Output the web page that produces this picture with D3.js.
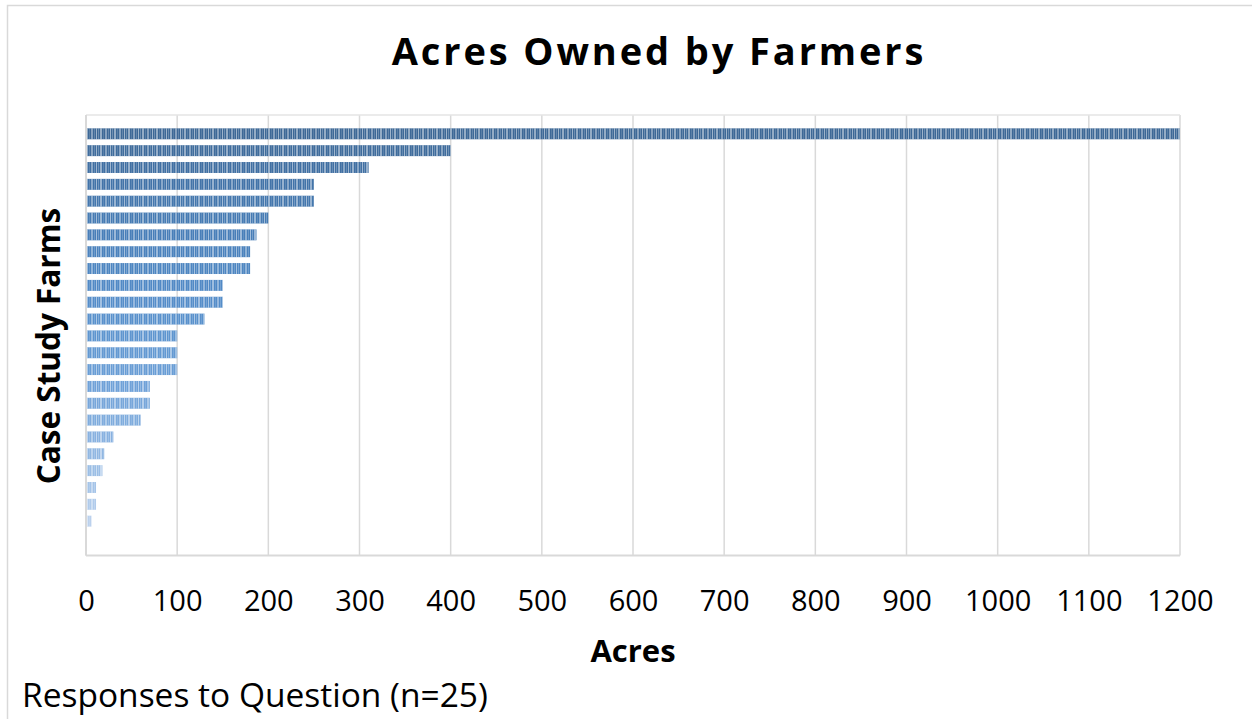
<!DOCTYPE html>
<html>
<head>
<meta charset="utf-8">
<script src="https://cdn.jsdelivr.net/npm/d3@7"></script>
<style>
  body { margin: 0; background: #fff; }
  text { font-family: "Open Sans", sans-serif; fill: #000; }
</style>
</head>
<body>
<svg id="chart" width="1252" height="719"></svg>
<script>
// one bar per farm, sorted largest first (25 responses)
var farms = ["F1","F2","F3","F4","F5","F6","F7","F8","F9","F10","F11","F12","F13",
             "F14","F15","F16","F17","F18","F19","F20","F21","F22","F23","F24","F25"];
var acres = [1200, 400, 310, 250, 250, 200, 187, 180, 180, 150, 150, 130, 100,
             100, 100, 70, 70, 60, 30, 20, 18, 11, 11, 6, 0];
var xTicks = [0, 100, 200, 300, 400, 500, 600, 700, 800, 900, 1000, 1100, 1200];

var data = farms.map(function(f, i) { return { farm: f, acres: acres[i] }; });

var svg = d3.select("#chart");

var plot = { left: 86, right: 1180, top: 115, bottom: 555.5 };

var x = d3.scaleLinear()
          .domain([0, 1200])
          .range([plot.left, plot.right]);

var step = 16.84;
var y = d3.scaleBand()
          .domain(farms)
          .range([plot.top + 10.4, plot.top + 10.4 + farms.length * step])
          .paddingInner(0.35)
          .paddingOuter(0.175);

// dark slate blue at the top fading to pale blue at the bottom
var color = d3.interpolateRgbBasis(["#3d6896", "#4a86c6", "#6ea2da", "#c6d8f0"]);

// outer chart border (cropped on right/bottom)
svg.append("rect")
   .attr("x", 7.5).attr("y", 5.5)
   .attr("width", 1400).attr("height", 900)
   .attr("fill", "none")
   .attr("stroke", "#d9d9d9")
   .attr("stroke-width", 1.5);

// stripe texture like the Excel fill
var defs = svg.append("defs");
var pat = defs.append("pattern")
   .attr("id", "stripes")
   .attr("patternUnits", "userSpaceOnUse")
   .attr("width", 14).attr("height", 20);
[[0, 1, 0.25], [2, 2, 0.45], [5, 1, 0.15], [7, 2, 0.38], [10, 1, 0.2], [12, 1, 0.5]].forEach(function(s) {
  pat.append("rect")
     .attr("x", s[0]).attr("y", 0)
     .attr("width", s[1]).attr("height", 20)
     .attr("fill", "#fff")
     .attr("fill-opacity", s[2]);
});

// vertical gridlines
svg.append("g")
   .selectAll("line")
   .data(xTicks)
   .enter()
   .append("line")
   .attr("x1", function(d) { return x(d); })
   .attr("x2", function(d) { return x(d); })
   .attr("y1", plot.top)
   .attr("y2", plot.bottom)
   .attr("stroke", "#d9d9d9")
   .attr("stroke-width", 1.5);

// top edge of plot
svg.append("line")
   .attr("x1", plot.left).attr("x2", plot.right)
   .attr("y1", plot.top).attr("y2", plot.top)
   .attr("stroke", "#e4e4e4").attr("stroke-width", 1.5);

// bars
var bars = svg.append("g").selectAll("g.bar")
   .data(data)
   .enter()
   .append("g")
   .attr("class", "bar");

bars.append("rect")
   .attr("x", x(0))
   .attr("y", function(d) { return y(d.farm); })
   .attr("width", function(d) { return x(d.acres) - x(0); })
   .attr("height", y.bandwidth())
   .attr("fill", function(d, i) { return color(i / (farms.length - 1)); });

bars.append("rect")
   .attr("x", x(0))
   .attr("y", function(d) { return y(d.farm); })
   .attr("width", function(d) { return x(d.acres) - x(0); })
   .attr("height", y.bandwidth())
   .attr("fill", "url(#stripes)");

// axis lines
svg.append("line")
   .attr("x1", plot.left).attr("x2", plot.right)
   .attr("y1", plot.bottom).attr("y2", plot.bottom)
   .attr("stroke", "#d9d9d9").attr("stroke-width", 2);
svg.append("line")
   .attr("x1", plot.left).attr("x2", plot.left)
   .attr("y1", plot.top).attr("y2", plot.bottom)
   .attr("stroke", "#d9d9d9").attr("stroke-width", 2);

// x tick labels
var xAxis = d3.axisBottom(x)
              .tickValues(xTicks)
              .tickSize(0)
              .tickPadding(0)
              .tickFormat(d3.format("d"));

var gx = svg.append("g")
   .attr("transform", "translate(0,590)")
   .call(xAxis);
gx.select(".domain").remove();
gx.selectAll("text")
  .attr("dy", "0.71em")
  .attr("font-size", "29px")
  .attr("font-family", "Open Sans, sans-serif")
  .attr("fill", "#000");

// titles
svg.append("text")
   .attr("x", 659).attr("y", 65)
   .attr("text-anchor", "middle")
   .attr("font-size", "38px")
   .attr("font-weight", "bold")
   .attr("letter-spacing", "2.9px")
   .text("Acres Owned by Farmers");

svg.append("text")
   .attr("x", (plot.left + plot.right) / 2).attr("y", 662)
   .attr("text-anchor", "middle")
   .attr("font-size", "31px")
   .attr("font-weight", "bold")
   .text("Acres");

svg.append("text")
   .attr("transform", "translate(60,346) rotate(-90)")
   .attr("text-anchor", "middle")
   .attr("font-size", "31.5px")
   .attr("font-weight", "bold")
   .text("Case Study Farms");

svg.append("text")
   .attr("x", 22).attr("y", 707)
   .attr("font-size", "33.5px")
   .text("Responses to Question (n=25)");
</script>
</body>
</html>
